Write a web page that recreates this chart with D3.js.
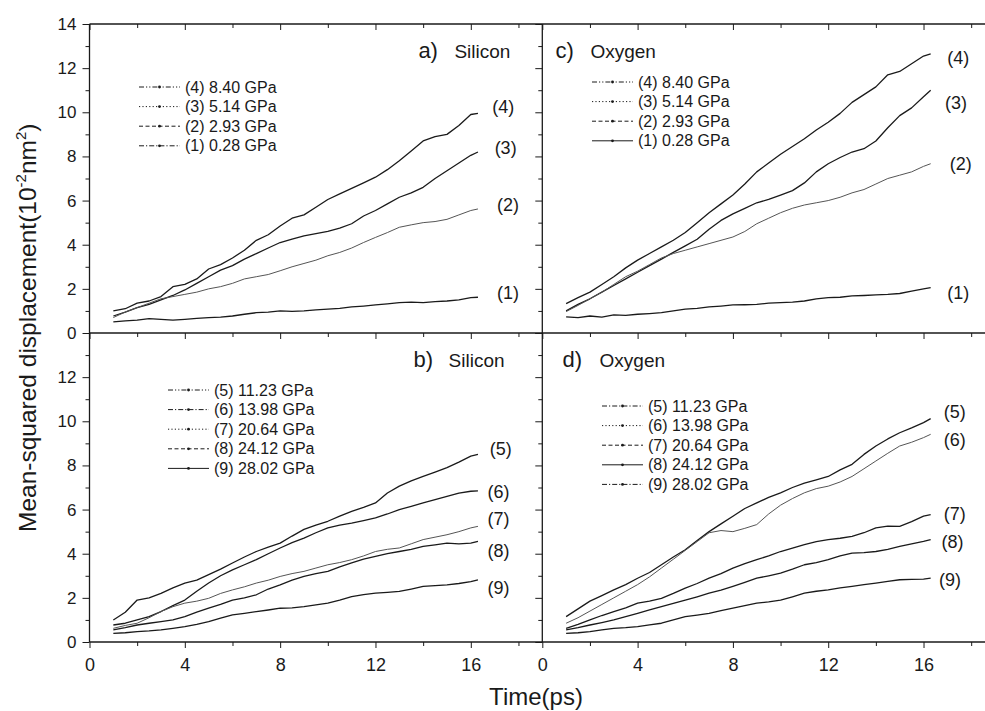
<!DOCTYPE html>
<html>
<head>
<meta charset="utf-8">
<script src="https://cdnjs.cloudflare.com/ajax/libs/d3/7.8.5/d3.min.js"></script>
<style>
  body { margin: 0; background: #fff; }
  svg { display: block; font-family: "Liberation Sans", Arial, sans-serif; }
</style>
</head>
<body>
<svg width="985" height="711"></svg>
<script>
// time axis shared by every curve (ps)
var time = [1, 1.5, 2, 2.5, 3, 3.5, 4, 4.5, 5, 5.5, 6, 6.5, 7, 7.5, 8, 8.5, 9, 9.5, 10, 10.5,
            11, 11.5, 12, 12.5, 13, 13.5, 14, 14.5, 15, 15.5, 16, 16.3]

// a) silicon, low pressure
var siA4 = [1.00,1.10,1.35,1.45,1.65,2.10,2.20,2.45,2.90,3.10,3.40,3.75,4.20,4.45,4.85,5.20,5.35,5.70,6.05,6.30,6.55,6.80,7.06,7.40,7.80,8.25,8.70,8.90,9.00,9.40,9.90,9.95]
var siA3 = [0.77,0.95,1.15,1.30,1.50,1.70,1.95,2.25,2.55,2.85,3.05,3.35,3.60,3.85,4.10,4.25,4.40,4.50,4.60,4.75,4.95,5.30,5.55,5.85,6.15,6.35,6.60,7.00,7.35,7.70,8.05,8.20]
var siA2 = [0.70,0.95,1.15,1.35,1.55,1.65,1.75,1.85,2.00,2.10,2.25,2.45,2.55,2.65,2.82,3.00,3.15,3.30,3.50,3.65,3.85,4.10,4.33,4.55,4.79,4.90,5.00,5.05,5.15,5.35,5.55,5.62]
var siA1 = [0.50,0.55,0.58,0.65,0.62,0.58,0.62,0.66,0.70,0.72,0.77,0.85,0.92,0.95,1.00,0.98,1.00,1.05,1.08,1.12,1.18,1.22,1.27,1.32,1.38,1.40,1.38,1.42,1.45,1.50,1.60,1.62]

// c) oxygen, low pressure
var oxC4 = [1.33,1.60,1.85,2.20,2.55,2.95,3.30,3.60,3.90,4.20,4.55,5.00,5.45,5.85,6.25,6.75,7.30,7.70,8.10,8.45,8.80,9.20,9.55,9.95,10.45,10.80,11.15,11.70,11.85,12.20,12.55,12.65]
var oxC3 = [1.00,1.30,1.55,1.85,2.15,2.45,2.75,3.05,3.35,3.65,3.95,4.25,4.70,5.10,5.40,5.65,5.90,6.05,6.25,6.45,6.80,7.30,7.67,7.95,8.20,8.35,8.70,9.30,9.85,10.20,10.70,11.00]
var oxC2 = [0.97,1.25,1.55,1.85,2.20,2.55,2.80,3.10,3.40,3.60,3.75,3.90,4.05,4.20,4.35,4.60,4.95,5.20,5.45,5.65,5.80,5.90,6.00,6.15,6.35,6.50,6.75,7.00,7.15,7.30,7.55,7.67]
var oxC1 = [0.73,0.70,0.77,0.72,0.82,0.80,0.85,0.88,0.92,1.00,1.08,1.12,1.18,1.22,1.27,1.28,1.30,1.35,1.38,1.40,1.45,1.55,1.60,1.62,1.68,1.70,1.73,1.75,1.79,1.90,2.00,2.06]

// b) silicon, high pressure
var siB5 = [1.00,1.35,1.90,2.00,2.20,2.45,2.67,2.80,3.05,3.30,3.58,3.85,4.10,4.30,4.48,4.80,5.10,5.30,5.47,5.70,5.92,6.10,6.30,6.75,7.06,7.30,7.50,7.70,7.90,8.15,8.42,8.50]
var siB6 = [0.77,0.85,1.00,1.15,1.38,1.65,1.90,2.30,2.67,3.00,3.27,3.50,3.73,4.00,4.26,4.50,4.71,4.95,5.17,5.30,5.39,5.50,5.62,5.80,6.00,6.15,6.30,6.45,6.60,6.75,6.83,6.85]
var siB7 = [0.62,0.75,0.85,1.10,1.38,1.60,1.76,1.85,1.98,2.20,2.36,2.50,2.67,2.80,2.97,3.10,3.20,3.35,3.50,3.60,3.73,3.90,4.10,4.20,4.26,4.45,4.64,4.75,4.86,5.00,5.17,5.24]
var siB8 = [0.55,0.65,0.77,0.85,0.92,1.00,1.15,1.35,1.53,1.70,1.90,2.00,2.14,2.40,2.59,2.80,2.97,3.10,3.20,3.40,3.58,3.75,3.88,4.00,4.10,4.20,4.33,4.40,4.48,4.45,4.48,4.56]
var siB9 = [0.39,0.42,0.47,0.50,0.55,0.62,0.70,0.80,0.92,1.08,1.23,1.30,1.38,1.45,1.53,1.55,1.60,1.68,1.76,1.90,2.06,2.15,2.21,2.25,2.29,2.40,2.52,2.55,2.59,2.65,2.74,2.82]

// d) oxygen, high pressure
var oxD5 = [1.15,1.50,1.85,2.10,2.36,2.60,2.89,3.15,3.50,3.85,4.18,4.60,5.00,5.35,5.70,6.05,6.30,6.55,6.76,7.00,7.20,7.35,7.50,7.80,8.05,8.50,8.88,9.20,9.48,9.70,9.94,10.12]
var oxD6 = [0.85,1.10,1.40,1.70,2.00,2.30,2.60,2.95,3.35,3.75,4.15,4.55,4.95,5.05,5.00,5.15,5.32,5.80,6.20,6.50,6.76,6.95,7.06,7.25,7.50,7.85,8.20,8.55,8.88,9.05,9.26,9.41]
var oxD7 = [0.62,0.80,1.00,1.20,1.38,1.55,1.76,1.85,1.98,2.20,2.44,2.65,2.89,3.10,3.35,3.55,3.73,3.90,4.10,4.25,4.41,4.55,4.64,4.70,4.79,4.95,5.17,5.25,5.24,5.45,5.70,5.77]
var oxD8 = [0.55,0.65,0.77,0.88,1.00,1.15,1.30,1.45,1.60,1.75,1.90,2.05,2.21,2.35,2.52,2.70,2.89,3.00,3.12,3.30,3.50,3.60,3.73,3.90,4.03,4.05,4.10,4.20,4.33,4.45,4.56,4.64]
var oxD9 = [0.39,0.42,0.47,0.55,0.62,0.65,0.70,0.78,0.85,1.00,1.15,1.22,1.30,1.42,1.53,1.65,1.76,1.82,1.90,2.05,2.21,2.30,2.36,2.45,2.52,2.60,2.67,2.75,2.82,2.84,2.85,2.89]

var lowPressures = ['(4) 8.40 GPa', '(3) 5.14 GPa', '(2) 2.93 GPa', '(1) 0.28 GPa']
var highPressures = ['(5) 11.23 GPa', '(6) 13.98 GPa', '(7) 20.64 GPa', '(8) 24.12 GPa', '(9) 28.02 GPa']

var yMajor = [0, 2, 4, 6, 8, 10, 12, 14]
var yMinor = [1, 3, 5, 7, 9, 11, 13]
var xMajor = [0, 4, 8, 12, 16]
var xMinor = [2, 6, 10, 14, 18]

var svg = d3.select('svg')
var ink = '#1a1a1a'

var xs = [
    d3.scaleLinear().domain([0, 19]).range([89.5, 542.3]),
    d3.scaleLinear().domain([0, 19]).range([542.3, 995])
]
var ys = [
    d3.scaleLinear().domain([0, 14]).range([333, 24]),
    d3.scaleLinear().domain([0, 14]).range([642, 333])
]

var dashes = {
    solid: null,
    dash: '4,2.5',
    dot: '1.2,2.2',
    dashdot: '5,2,1.2,2',
    dashdotdot: '5,2,1.2,2,1.2,2'
}

// label spots are in data units (t, value)
var panels = [
    {col: 0, row: 0, tag: 'a)', el: 'Silicon', tagAt: [13.8, 12.45], elGap: 36,
     series: [siA4, siA3, siA2, siA1], names: lowPressures, light: [2],
     styles: ['dashdotdot', 'dot', 'dash', 'dashdot'],
     legend: [49.5, 63], spots: [[16.9, 10.24], [17.0, 8.38], [17.1, 5.80], [17.1, 1.81]]},
    {col: 1, row: 0, tag: 'c)', el: 'Oxygen', tagAt: [0.55, 12.45], elGap: 35,
     series: [oxC4, oxC3, oxC2, oxC1], names: lowPressures, light: [2],
     styles: ['dashdotdot', 'dot', 'dash', 'solid'],
     legend: [49.7, 58], spots: [[17.0, 12.46], [16.9, 10.42], [17.1, 7.66], [17.0, 1.81]]},
    {col: 0, row: 1, tag: 'b)', el: 'Silicon', tagAt: [13.6, 12.45], elGap: 35,
     series: [siB5, siB6, siB7, siB8, siB9], names: highPressures, light: [2],
     styles: ['dashdotdot', 'dashdot', 'dot', 'dash', 'solid'],
     legend: [78.5, 57], spots: [[16.8, 8.74], [16.7, 6.80], [16.7, 5.57], [16.7, 4.12], [16.7, 2.45]]},
    {col: 1, row: 1, tag: 'd)', el: 'Oxygen', tagAt: [0.85, 12.45], elGap: 37,
     series: [oxD5, oxD6, oxD7, oxD8, oxD9], names: highPressures, light: [1],
     styles: ['dashdot', 'dot', 'dash', 'solid', 'dashdot'],
     legend: [59.7, 73], spots: [[16.85, 10.42], [16.85, 9.15], [16.85, 5.80], [16.75, 4.53], [16.65, 2.81]]}
]

var styleAxis = function(g, size) {
    g.select('.domain').remove()
    g.selectAll('line').attr('stroke', ink)
    g.selectAll('text').attr('fill', ink)
    g.attr('font-family', '"Liberation Sans", Arial, sans-serif').attr('font-size', size || 17)
}

// axes for each panel
panels.forEach(function(p) {
    var x = xs[p.col], y = ys[p.row]

    // left axis, outward ticks
    svg.append('g')
        .attr('transform', `translate(${x.range()[0]},0)`)
        .call(d3.axisLeft(y).tickValues(p.col == 0 ? (p.row == 0 ? yMajor : yMajor.slice(0, 7)) : yMajor)
            .tickSize(7).tickPadding(6).tickFormat(p.col == 0 ? d3.format('d') : ''))
        .call(styleAxis)
    svg.append('g')
        .attr('transform', `translate(${x.range()[0]},0)`)
        .call(d3.axisLeft(y).tickValues(yMinor).tickSize(4).tickFormat(''))
        .call(styleAxis)

    // top edge, inward ticks
    svg.append('g')
        .attr('transform', `translate(0,${y.range()[1]})`)
        .call(d3.axisTop(x).tickValues(xMajor).tickSize(-6).tickFormat(''))
        .call(styleAxis)
    svg.append('g')
        .attr('transform', `translate(0,${y.range()[1]})`)
        .call(d3.axisTop(x).tickValues(xMinor).tickSize(-4).tickFormat(''))
        .call(styleAxis)

    if (p.row == 1) {
        svg.append('g')
            .attr('transform', `translate(0,${y.range()[0]})`)
            .call(d3.axisBottom(x).tickValues(xMajor).tickSize(6).tickPadding(10).tickFormat(d3.format('d')))
            .call(g => styleAxis(g, 18))
        svg.append('g')
            .attr('transform', `translate(0,${y.range()[0]})`)
            .call(d3.axisBottom(x).tickValues(xMinor).tickSize(4).tickFormat(''))
            .call(styleAxis)
    }
})

// frame
var frame = svg.append('g').attr('stroke', ink).attr('stroke-width', 1.3)
frame.append('line').attr('x1', xs[0](0)).attr('x2', 985).attr('y1', ys[0](14)).attr('y2', ys[0](14))
frame.append('line').attr('x1', xs[0](0)).attr('x2', 985).attr('y1', ys[0](0)).attr('y2', ys[0](0))
frame.append('line').attr('x1', xs[0](0)).attr('x2', 985).attr('y1', ys[1](0)).attr('y2', ys[1](0))
frame.append('line').attr('x1', xs[0](0)).attr('x2', xs[0](0)).attr('y1', ys[0](14)).attr('y2', ys[1](0))
frame.append('line').attr('x1', xs[1](0)).attr('x2', xs[1](0)).attr('y1', ys[0](14)).attr('y2', ys[1](0))

// curves, legends, labels
panels.forEach(function(p) {
    var x = xs[p.col], y = ys[p.row]
    var line = d3.line().x(d => x(d[0])).y(d => y(d[1]))
    var g = svg.append('g')

    g.selectAll('path.curve').data(p.series)
        .enter().append('path')
        .attr('class', 'curve')
        .attr('d', d => line(d3.zip(time, d)))
        .attr('fill', 'none')
        .attr('stroke', (d, i) => p.light.indexOf(i) > -1 ? '#555' : ink)
        .attr('stroke-width', (d, i) => p.light.indexOf(i) > -1 ? 1 : 1.3)
        .attr('stroke-linejoin', 'round')

    // end labels (4) (3) ...
    g.selectAll('text.tag').data(p.names)
        .enter().append('text')
        .attr('class', 'tag')
        .attr('x', (d, i) => x(p.spots[i][0]))
        .attr('y', (d, i) => y(p.spots[i][1]))
        .attr('dy', '0.35em')
        .attr('font-size', 18)
        .attr('fill', ink)
        .text(d => d.slice(0, 3))

    // panel title
    var tx = x(p.tagAt[0]), ty = y(p.tagAt[1])
    g.append('text').attr('x', tx).attr('y', ty).attr('font-size', 22).attr('fill', ink).text(p.tag)
    g.append('text').attr('x', tx + p.elGap).attr('y', ty).attr('font-size', 19).attr('fill', ink).text(p.el)

    // legend
    var lx = x.range()[0] + p.legend[0], ly = y.range()[1] + p.legend[1]
    var leg = g.append('g').attr('transform', `translate(${lx},${ly})`)
    var rows = leg.selectAll('g').data(p.names).enter().append('g')
        .attr('transform', (d, i) => `translate(0,${i * 19.6})`)
    rows.append('line')
        .attr('x1', 0).attr('x2', 41).attr('y1', 0).attr('y2', 0)
        .attr('stroke', ink).attr('stroke-width', 1)
        .attr('stroke-dasharray', (d, i) => dashes[p.styles[i]])
    rows.append('circle')
        .attr('cx', 20.5).attr('cy', 0).attr('r', 1.4).attr('fill', ink)
    rows.append('text')
        .attr('x', 46).attr('y', 0).attr('dy', '0.35em')
        .attr('font-size', 16).attr('fill', ink)
        .text(d => d)
})

// axis titles
var ytitle = svg.append('text')
    .attr('transform', 'translate(36,532) rotate(-90)')
    .attr('font-size', 24.5)
    .attr('fill', ink)
ytitle.append('tspan').text('Mean-squared displacement(10')
ytitle.append('tspan').attr('font-size', 15).attr('dy', -10).text('-2')
ytitle.append('tspan').attr('dy', 10).text('nm')
ytitle.append('tspan').attr('font-size', 15).attr('dy', -10).text('2')
ytitle.append('tspan').attr('dy', 10).text(')')

svg.append('text')
    .attr('x', 536).attr('y', 705)
    .attr('text-anchor', 'middle')
    .attr('font-size', 24)
    .attr('fill', ink)
    .text('Time(ps)')
</script>
</body>
</html>
